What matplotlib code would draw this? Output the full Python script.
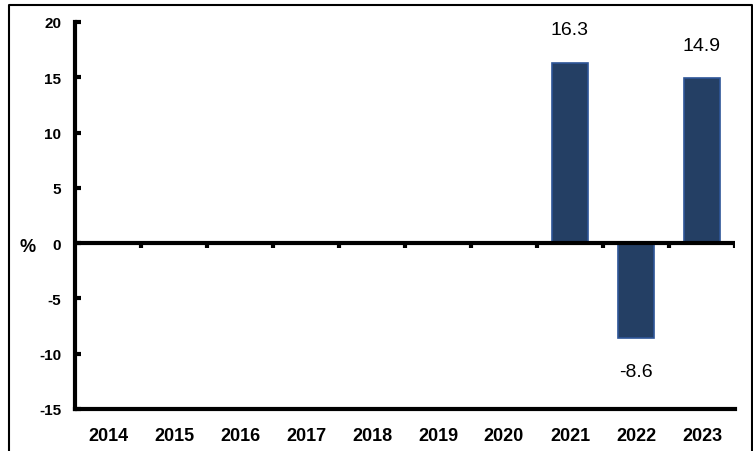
import numpy as np
import matplotlib.pyplot as plt
from matplotlib.lines import Line2D

plt.rcParams['font.family'] = ['Liberation Sans', 'DejaVu Sans']

# Data
years = ['2014', '2015', '2016', '2017', '2018', '2019', '2020', '2021', '2022', '2023']
values = [np.nan, np.nan, np.nan, np.nan, np.nan, np.nan, np.nan, 16.3, -8.6, 14.9]
labels = ['', '', '', '', '', '', '', '16.3', '-8.6', '14.9']
yticks = [-15, -10, -5, 0, 5, 10, 15, 20]

fig = plt.figure(figsize=(7.53, 4.52), dpi=100)
W, H = 753, 452
ax = fig.add_axes([75 / W, 1 - 410 / H, 660 / W, 387 / H])

# outer frame (open at the bottom)
fx = [8.5 / W, 8.5 / W, 751.5 / W, 751.5 / W]
fy = [0, 1 - 5.5 / H, 1 - 5.5 / H, 0]
fig.lines.append(Line2D(fx, fy, transform=fig.transFigure, color='black', linewidth=1.5))

x = np.arange(len(years))
ax.bar(x, values, width=0.55, color='#243F64', edgecolor='#2E5597', linewidth=1.2, zorder=2)

for xi, v, lab in zip(x, values, labels):
    if not lab:
        continue
    off = 3.0 if v >= 0 else -3.0
    ax.text(xi, v + off, lab, ha='center', va='center', fontsize=14)

# zero line with category boundary ticks
ax.axhline(0, color='black', linewidth=3, zorder=3)
bounds = np.arange(len(years)) + 0.5
ax.vlines(bounds, -0.45, 0, color='black', linewidth=3, zorder=3)

ax.set_xlim(-0.5, len(years) - 0.5)
ax.set_ylim(-15, 20)
ax.set_yticks(yticks)
ax.set_yticklabels([str(t) for t in yticks], fontsize=11, fontweight='bold')
ax.set_xticks(x)
ax.set_xticklabels(years, fontsize=13, fontweight='bold')

ax.tick_params(axis='y', direction='in', length=4, width=3, pad=10)
ax.tick_params(axis='x', length=0, pad=13)

for s in ['top', 'right']:
    ax.spines[s].set_visible(False)
ax.spines['left'].set_linewidth(3)
ax.spines['bottom'].set_linewidth(3)

fig.text(28 / W, 1 - 248 / H, '%', ha='center', va='center', fontsize=13, fontweight='bold')

fig.savefig('out.png', dpi=100)
